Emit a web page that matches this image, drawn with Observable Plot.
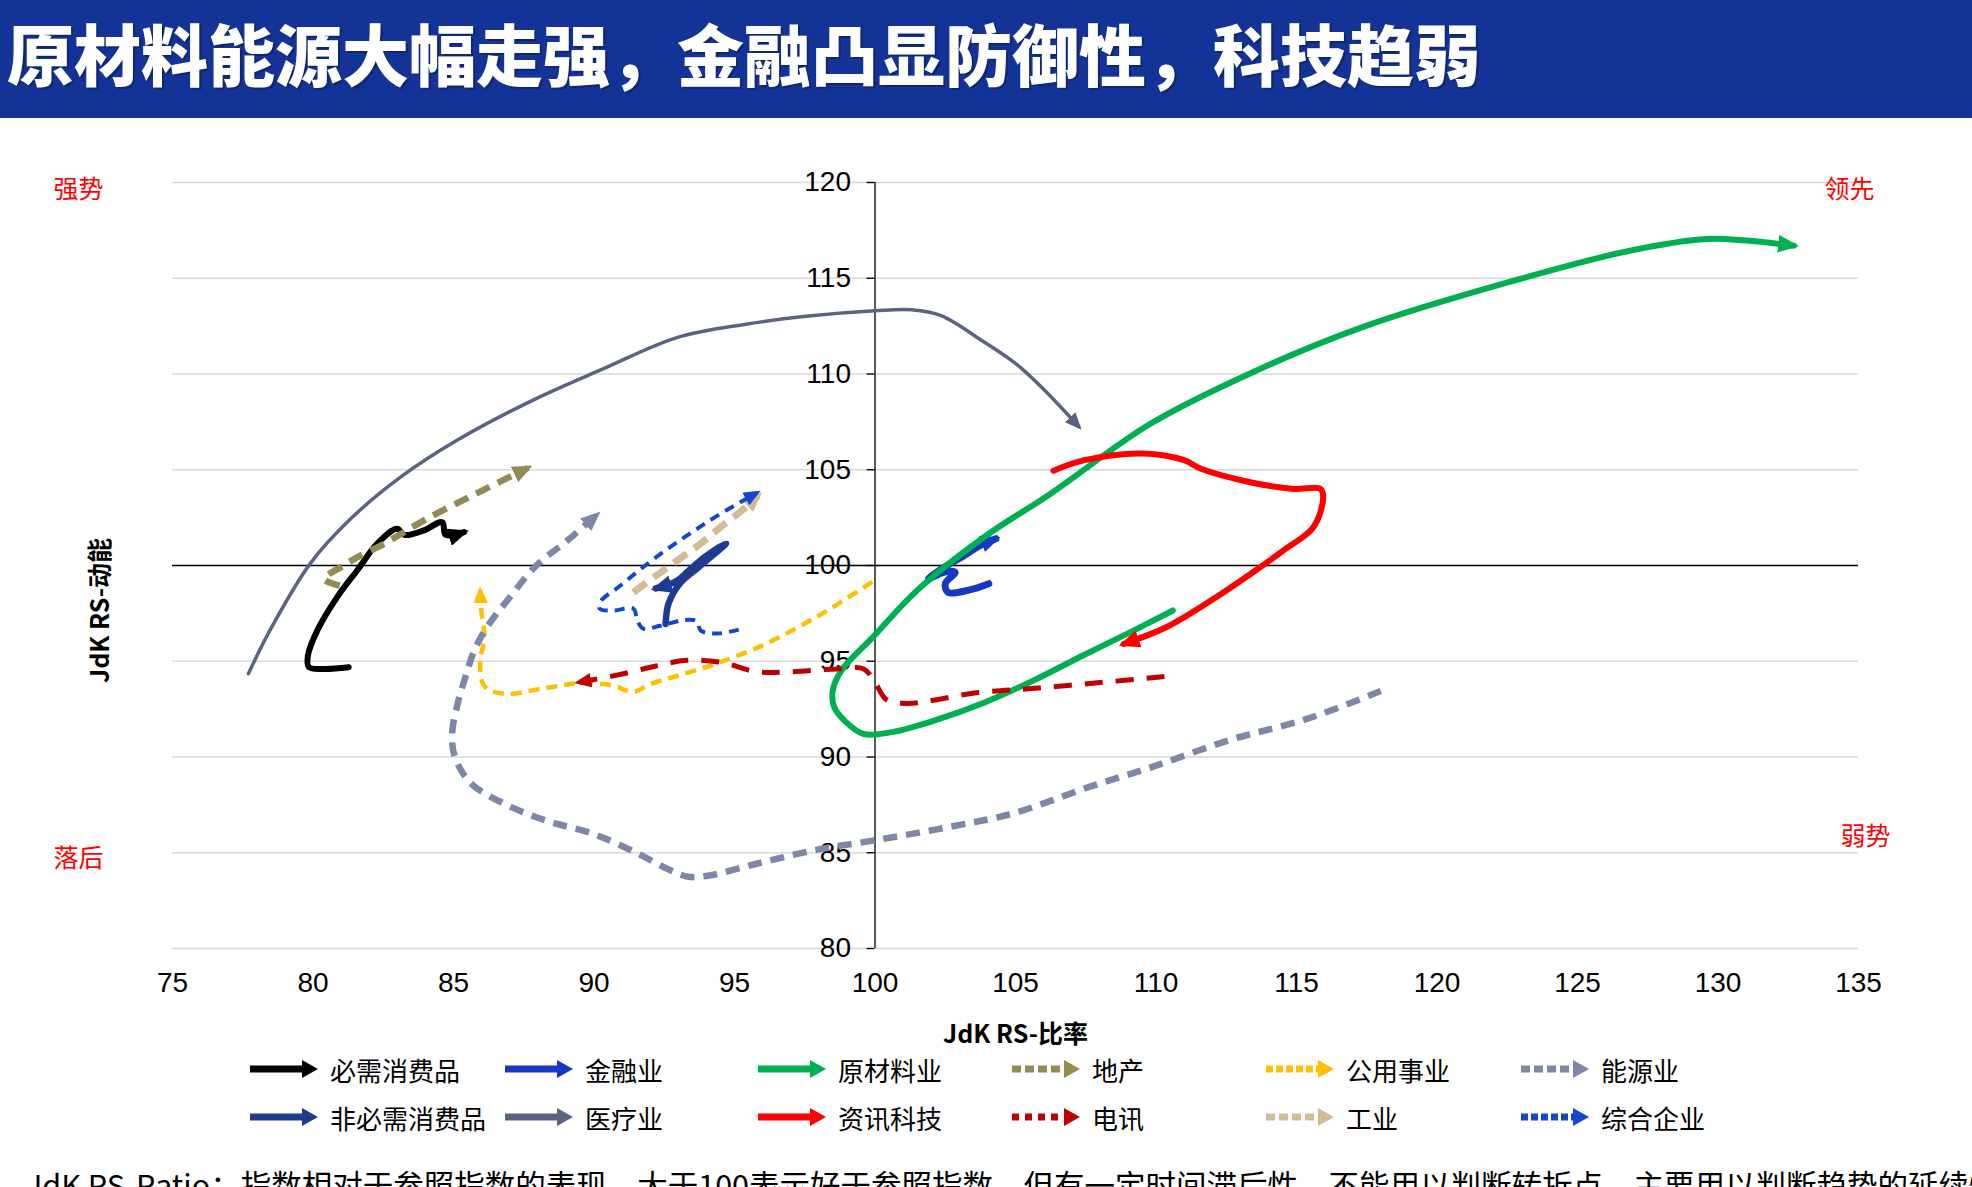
<!DOCTYPE html>
<html>
<head>
<meta charset="utf-8">
<script src="https://cdn.jsdelivr.net/npm/d3@7"></script>
<script src="https://cdn.jsdelivr.net/npm/@observablehq/plot@0.6"></script>
<style>
  html, body { margin: 0; padding: 0; background: #fff; width: 1972px; height: 1187px; overflow: hidden; }
  body { position: relative; font-family: "Noto Sans CJK SC", "Noto Sans", sans-serif; }
  #title { position: absolute; left: 0; top: 0; width: 1972px; height: 118px; background: #133397;
           color: #fff; font-weight: 900; font-size: 67px; line-height: 104px; padding-left: 7px; box-sizing: border-box;
           white-space: nowrap; text-shadow: 2px 2px 0 rgba(0,0,0,0.25); }
  #chart { position: absolute; left: 0; top: 118px; }
  .legend-item { position: absolute; height: 36px; display: flex; align-items: center; white-space: nowrap;
                 font-size: 26px; color: #000; }
  .legend-item svg { display: block; }
  #note { position: absolute; left: 26px; top: 1169px; font-size: 30.5px; line-height: 30px; white-space: nowrap; color: #000; }
</style>
</head>
<body>
<div id="title">原材料能源大幅走强，金融凸显防御性，科技趋弱</div>
<div id="chart"></div>
<div id="legend"></div>
<div id="note">JdK RS-Ratio：指数相对于参照指数的表现，大于100表示好于参照指数，但有一定时间滞后性，不能用以判断转折点，主要用以判断趋势的延续性</div>
<script>
// Axis ticks
const xTicks = [75, 80, 85, 90, 95, 100, 105, 110, 115, 120, 125, 130, 135];
const yTicks = [80, 85, 90, 95, 100, 105, 110, 115, 120];

// Sector names (legend order) and their colours
const names = ["必需消费品", "金融业", "原材料业", "地产", "公用事业", "能源业",
               "非必需消费品", "医疗业", "资讯科技", "电讯", "工业", "综合企业"];
const colors = ["#000000", "#1638C4", "#00B050", "#948A54", "#FFC000", "#7F87A8",
                "#1F3A93", "#5B6382", "#FF0000", "#C00000", "#D2BC95", "#1249CC"];

// Rotation paths: [JdK RS-Ratio, JdK RS-Momentum], tail first, arrow head last
const staples = [[81.27,94.69],[80.4,94.6],[79.85,94.7],[79.82,95.3],[80.15,96.6],[80.86,98.35],[81.57,99.74],
  [82.28,101.13],[82.99,101.92],[83.25,101.6],[83.94,101.83],[84.6,102.26],[84.72,101.6],[85.37,101.74]];
const financials = [[104.05,99.05],[103.3,98.7],[102.6,98.6],[102.5,99.05],[102.85,99.65],[102.45,99.65],
  [101.9,99.3],[102.45,99.9],[103.15,100.5],[103.75,101.05],[104.3,101.4]];
const materials = [[110.6,97.65],[109.2,96.6],[107.4,95.3],[105.65,94.0],[103.9,92.85],[102.1,91.9],[100.6,91.3],
  [99.6,91.2],[98.95,91.85],[98.55,92.6],[98.5,93.5],[98.8,94.5],[99.95,96.3],[101.5,98.7],[103.9,101.5],
  [106.25,103.75],[109.8,107.4],[113.6,110.2],[117.35,112.45],[122.8,114.9],[126.9,116.45],[129.6,117.05],
  [131.0,116.97],[132.7,116.7]];
const realEstate = [[80.95,98.95],[80.4,99.3],[81.1,100.0],[81.6,100.45],[82.55,101.15],[84.0,102.4],
  [85.8,103.75],[87.65,105.1]];
const utilities = [[99.9,99.15],[98.8,98.1],[97.9,97.3],[96.1,95.9],[94.4,94.9],[93.2,94.34],[92.0,93.8],
  [91.4,93.4],[90.6,93.75],[89.5,93.85],[88.25,93.6],[86.8,93.3],[86.1,93.7],[85.95,94.9],[86.1,96.3],
  [86.0,97.5],[85.95,98.7]];
const energy = [[118.0,93.45],[115.4,92.0],[112.65,90.9],[109.9,89.5],[107.65,88.45],[104.9,87.05],[102.65,86.35],
  [100.0,85.65],[97.9,85.15],[95.85,84.45],[94.05,83.8],[93.35,83.75],[92.7,84.1],[91.5,85.0],[89.95,86.0],
  [88.35,86.65],[86.75,87.6],[85.6,88.65],[85.05,90.0],[84.95,91.2],[85.15,92.8],[85.45,94.3],[85.75,95.6],
  [86.2,96.8],[86.9,98.15],[87.95,100.0],[89.05,101.3],[90.1,102.65]];
const discretionary = [[92.55,96.95],[92.65,98.0],[93.05,99.05],[93.75,99.95],[94.7,101.15],[93.95,100.45],
  [93.35,99.7],[92.95,99.2],[92.2,98.8]];
const healthcare = [[77.7,94.35],[78.5,96.7],[79.9,100.1],[81.35,102.45],[83.15,104.65],[85.2,106.6],[87.85,108.65],
  [90.3,110.25],[92.95,111.9],[95.4,112.6],[97.45,113.0],[100.0,113.3],[101.3,113.35],[102.35,113.05],
  [103.8,111.75],[105.0,110.55],[106.0,109.2],[107.25,107.25]];
const infoTech = [[106.35,104.95],[107.45,105.5],[109.55,105.85],[111.0,105.5],[111.6,105.05],[113.35,104.35],
  [114.9,104.0],[115.85,104.0],[115.95,103.55],[115.6,102.0],[114.55,100.8],[113.7,99.9],[112.15,98.35],
  [110.4,96.8],[108.85,95.9]];
const telecom = [[110.3,94.2],[108.1,93.9],[105.8,93.6],[103.6,93.35],[101.15,92.8],[100.4,93.0],[100.0,93.9],
  [99.6,94.6],[98.65,94.6],[97.0,94.45],[95.8,94.45],[94.5,94.95],[93.3,95.05],[92.2,94.75],[90.9,94.3],[89.45,93.9]];
const industrials = [[91.4,98.6],[92.15,99.4],[92.95,100.25],[93.8,101.15],[94.5,102.0],[95.2,102.8],[95.85,103.65]];
const conglomerates = [[95.15,96.65],[94.4,96.45],[93.8,96.6],[93.65,97.1],[93.2,97.15],[92.35,96.85],[91.75,96.7],
  [91.55,97.1],[91.4,97.75],[90.7,97.65],[90.2,97.75],[90.25,98.15],[90.85,98.85],[91.65,99.8],[92.6,100.85],
  [93.55,101.8],[94.5,102.7],[95.8,103.8]];

const paths = [staples, financials, materials, realEstate, utilities, energy,
               discretionary, healthcare, infoTech, telecom, industrials, conglomerates];

// Stroke styles per sector
const widths = [6, 7, 6, 6.5, 4.5, 6.5, 6.5, 3.5, 6, 5, 7, 4];
const dashes = [null, null, null, "15,9", "11,7", "14,9", null, null, null, "18,13", "16,9", "10,7"];
const arrowSize = [21, 20, 21, 20, 17, 20, 21, 17, 21, 17, 20, 17];
const legendDashes = [null, null, null, "9,4", "7,3", "9,4", null, null, null, "7,6", "9,4", "7,3"];

const W = 1972, H = 930;
const mLeft = 172, mRight = 114, mTop = 64, mBottom = 100;
const tickFont = "'Liberation Sans Narrow', 'Liberation Sans', sans-serif";

const series = paths.map((p, i) => ({name: names[i], points: p.map(([x, y]) => ({x, y}))}));

const quadrant = {fill: "#FF0000", fontSize: 25, textAnchor: "middle", lineAnchor: "middle"};

const chart = Plot.plot({
  width: W,
  height: H,
  marginLeft: mLeft,
  marginRight: mRight,
  marginTop: mTop,
  marginBottom: mBottom,
  style: {fontFamily: "'Noto Sans CJK SC', sans-serif", fontSize: "26px", color: "#000", background: "transparent", overflow: "visible"},
  x: {domain: [75, 135], ticks: xTicks},
  y: {domain: [80, 120], axis: null},
  marks: [
    Plot.gridY(yTicks, {stroke: "#d9d9d9", strokeOpacity: 1, strokeWidth: 1.3}),
    Plot.ruleY([100], {stroke: "#000", strokeWidth: 1.3}),
    Plot.ruleX([100], {stroke: "#000", strokeWidth: 1.3}),
    Plot.ruleY(yTicks, {y: d => d, x1: 100, x2: 100, insetLeft: -8, stroke: "#000", strokeWidth: 1.3}),
    Plot.text(yTicks, {x: 100, y: d => d, text: d => `${d}`, textAnchor: "end", dx: -24,
                       fontSize: 28, fontFamily: tickFont, fill: "#000"}),
    Plot.axisX(xTicks, {anchor: "bottom", tickSize: 0, tickPadding: 24, fontSize: 28,
                        fontFamily: tickFont, label: null, fill: "#000"}),
    Plot.text(["JdK RS-比率"], {frameAnchor: "bottom", dy: 86, fontWeight: "bold", fontSize: 25,
                                 textAnchor: "middle", lineAnchor: "middle"}),
    Plot.text(["JdK RS-动能"], {frameAnchor: "left", dx: -72, dy: 45, rotate: -90, fontWeight: "bold", fontSize: 25,
                                 textAnchor: "middle", lineAnchor: "middle"}),
    Plot.text(["强势"], {frameAnchor: "top-left", dx: -94, dy: 7, ...quadrant}),
    Plot.text(["落后"], {frameAnchor: "bottom-left", dx: -94, dy: -90, ...quadrant}),
    Plot.text(["领先"], {frameAnchor: "top-right", dx: -9, dy: 7, ...quadrant}),
    Plot.text(["弱势"], {frameAnchor: "bottom-right", dx: 7, dy: -112, ...quadrant}),
    ...series.map((s, i) => Plot.line(s.points, {
      x: "x", y: "y", stroke: colors[i], strokeWidth: widths[i],
      strokeDasharray: dashes[i] || undefined, curve: "catmull-rom",
      strokeLinejoin: "round", strokeLinecap: dashes[i] ? "butt" : "round"
    }))
  ]
});
document.getElementById("chart").appendChild(chart);

// Filled triangular arrow heads at the end of every path
const svg = d3.select(chart);
const defs = svg.insert("defs", ":first-child");
svg.selectAll('g[aria-label="line"] path').each(function (d, i) {
  const id = `rrg-arrow-${i}`;
  const m = defs.append("marker")
    .attr("id", id)
    .attr("viewBox", "0 -5 10 10")
    .attr("refX", 7.5)
    .attr("refY", 0)
    .attr("markerWidth", arrowSize[i])
    .attr("markerHeight", arrowSize[i] * 0.85)
    .attr("markerUnits", "userSpaceOnUse")
    .attr("orient", "auto")
    .attr("preserveAspectRatio", "none");
  m.append("path").attr("d", "M0,-5L10,0L0,5Z").attr("fill", colors[i]).attr("stroke", "none");
  d3.select(this).attr("marker-end", `url(#${id})`);
});

// Legend: two rows of six entries
const legend = d3.select("#legend");
const colX = [248, 503, 756, 1010, 1264, 1519];
const rowY = [1069, 1117];
names.forEach((name, i) => {
  const row = Math.floor(i / 6), col = i % 6;
  const item = legend.append("div").attr("class", "legend-item")
    .style("left", `${colX[col]}px`).style("top", `${rowY[row] - 18}px`);
  const sw = item.append("svg").attr("width", 72).attr("height", 24).style("margin-right", "10px");
  sw.append("line").attr("x1", 2).attr("x2", 56).attr("y1", 12).attr("y2", 12)
    .attr("stroke", colors[i]).attr("stroke-width", 7)
    .attr("stroke-dasharray", legendDashes[i]);
  sw.append("path").attr("d", "M54,3L70,12L54,21Z").attr("fill", colors[i]);
  item.append("span").text(name);
});
</script>
</body>
</html>
